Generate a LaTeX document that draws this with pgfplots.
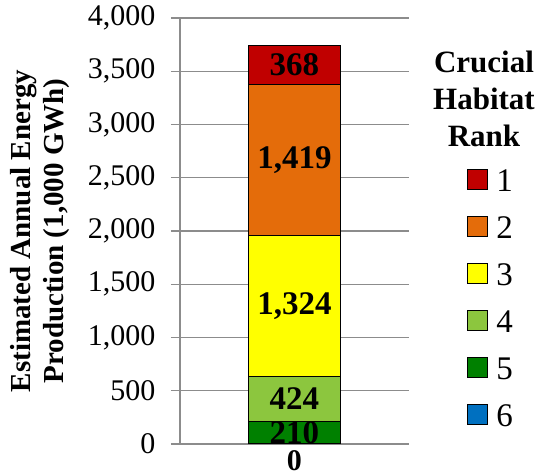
\documentclass[border=0pt]{standalone}
\usepackage{pgfplots}
\pgfplotsset{compat=1.18}
\usepackage{fontspec}
\setmainfont{Liberation Serif}
\definecolor{rankA}{HTML}{C00000}
\definecolor{rankB}{HTML}{E46C0A}
\definecolor{rankC}{HTML}{FFFF00}
\definecolor{rankD}{HTML}{8CC63E}
\definecolor{rankE}{HTML}{008000}
\definecolor{rankF}{HTML}{0070C0}
\definecolor{gridgray}{HTML}{8C8C8C}
\begin{document}
\begin{tikzpicture}
\useasboundingbox (-180pt,-29pt) rectangle (359pt,444pt);
\begin{axis}[
  at={(0pt,0pt)}, anchor=south west,
  scale only axis, width=229pt, height=426pt,
  ybar stacked, bar width=92pt,
  xmin=-0.5, xmax=0.5, ymin=0, ymax=4000,
  xtick={0}, xticklabels={\textbf{0}},
  ytick={0,500,...,4000},
  axis lines*=left,
  axis line style={gridgray, line width=1.3pt},
  ymajorgrids, grid style={gridgray, line width=1.3pt},
  major tick length=9pt, tick align=outside,
  y tick style={gridgray, line width=1.3pt},
  x tick style={draw=none},
  /pgf/number format/1000 sep={,},
  /pgf/number format/assume math mode=true,
  tick label style={font=\fontsize{30}{30}\selectfont},
  yticklabel style={xshift=-12pt},
  xticklabel style={font=\bfseries\fontsize{30}{30}\selectfont, yshift=6pt},
  ylabel={Estimated Annual Energy\\Production (1,000 GWh)},
  ylabel style={align=center, font=\bfseries\fontsize{29}{33}\selectfont},
  ylabel shift=11pt,
  every node near coord/.append style={font=\bfseries\fontsize{33}{33}\selectfont,
    anchor=center, text=black},
  every axis plot/.append style={draw=black, line width=1.3pt},
  legend image code/.code={\draw[#1, line width=1.3pt] (0pt,-10pt) rectangle (20pt,10pt);},
  reverse legend,
  legend style={at={(1.253,0.648)}, anchor=north west, draw=none, fill=none,
    inner sep=0pt, row sep=24pt,
    nodes={inner sep=0pt, text height=23pt, text depth=0pt,
      font=\fontsize{33}{33}\selectfont},
    /tikz/every odd column/.append style={column sep=8pt}},
]
\addplot[fill=rankF] coordinates {(0,0)};
\addplot[fill=rankE, nodes near coords] coordinates {(0,210)};
\addplot[fill=rankD, nodes near coords] coordinates {(0,424)};
\addplot[fill=rankC, nodes near coords] coordinates {(0,1324)};
\addplot[fill=rankB, nodes near coords] coordinates {(0,1419)};
\addplot[fill=rankA, nodes near coords] coordinates {(0,368)};
\legend{6,5,4,3,2,1}
\end{axis}
\node[font=\bfseries\fontsize{31}{37}\selectfont, align=center] at (304pt,345pt) {Crucial\\Habitat\\Rank};
\end{tikzpicture}
\end{document}
